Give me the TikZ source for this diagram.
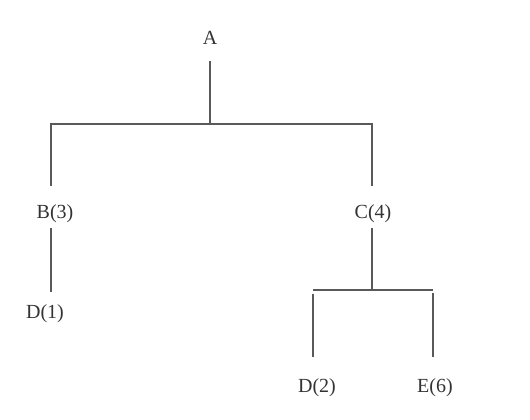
\documentclass[tikz,border=0pt]{standalone}
\usepackage{fontspec}
\setmainfont{Liberation Serif}
\begin{document}
\begin{tikzpicture}[x=1pt,y=-1pt,
  lbl/.style={anchor=base,inner sep=0pt,text height=22pt,text depth=0pt,
    font=\fontsize{20}{24}\selectfont,text=black!80},
  conn/.style={draw=black!65,line width=1.6pt}]
\useasboundingbox (0,0) rectangle (530,420);
\node[lbl,outer ysep=16pt] (A)  at (210,45)  {A};
\node[lbl,outer ysep=10pt] (B)  at (55,218)  {B(3)};
\node[lbl,outer ysep=10pt] (C)  at (373,218) {C(4)};
\node[lbl,outer ysep=4pt]  (D1) at (45,318)  {D(1)};
\node[lbl,outer ysep=13pt] (D2) at (317,392) {D(2)};
\node[lbl,outer ysep=13pt] (E)  at (435,392) {E(6)};
\coordinate (ja) at (210,124);
\coordinate (bl) at (51,124);
\coordinate (br) at (372,124);
\coordinate (jc) at (372,290);
\coordinate (cl) at (313,290);
\coordinate (cr) at (433,290);
\draw[conn] (A.south -| ja) -- (ja);
\draw[conn] (bl |- B.north) -- (bl) -- (br) -- (br |- C.north);
\draw[conn] (bl |- B.south) -- (bl |- D1.north);
\draw[conn] (br |- C.south) -- (jc);
\draw[conn] (cl) -- (cr);
\draw[conn] ([yshift=-4pt]cl) -- (cl |- D2.north);
\draw[conn] ([yshift=-3pt]cr) -- (cr |- E.north);
\end{tikzpicture}
\end{document}
